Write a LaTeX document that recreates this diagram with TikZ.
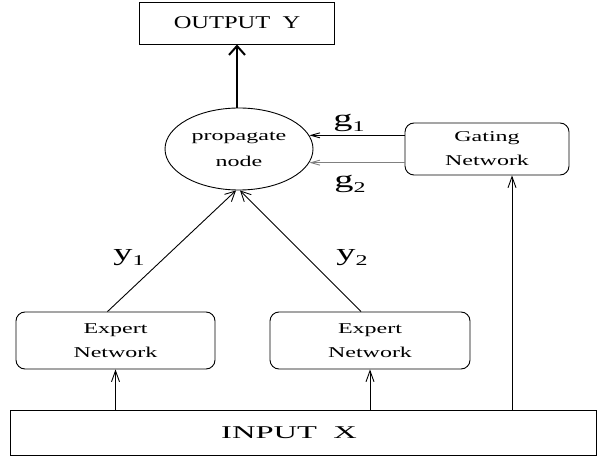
\documentclass[tikz,border=0pt]{standalone}
\usepackage{fontspec}
\setmainfont{Liberation Serif}[FakeStretch=1.6]
\usepackage{tikz}
\usetikzlibrary{arrows.meta, shapes.geometric, positioning}
\newcommand{\dn}[1]{\raisebox{-0.45ex}{\fontsize{15}{15}\selectfont #1}}

\begin{document}
\begin{tikzpicture}[x=1pt, y=1pt, line width=0.9pt,
    iobox/.style={draw, rectangle, minimum height=42pt, inner sep=2pt,
                  font=\fontsize{18}{18}\selectfont},
    netbox/.style={draw, rounded corners=9pt, minimum height=57pt, inner sep=2pt,
                   align=center, font=\fontsize{15}{24}\selectfont},
    arr/.style={-{Straight Barb[length=11pt,width=8pt]}},
    garr/.style={-{Straight Barb[length=9pt,width=5pt]}},
    sig/.style={font=\fontsize{24}{24}\selectfont, inner sep=0pt}]
  \useasboundingbox (0,0) rectangle (609,458);
  % boxes
  \node[iobox, minimum width=195pt] (out) at (237,435)
        {\scalebox{0.85}[1]{OUTPUT~~Y}};
  \node[draw, ellipse, minimum width=148pt, minimum height=82pt, inner sep=0pt,
        align=center, font=\fontsize{15}{26}\selectfont] (prop) at (239,309)
        {propagate\\node};
  \node[netbox, minimum width=164pt, minimum height=52pt] (gate) at (487,309)
        {Gating\\Network};
  \node[netbox, minimum width=199pt] (ex1) at (115.5,117.5) {Expert\\Network};
  \node[netbox, minimum width=200pt] (ex2) at (370,117.5) {Expert\\Network};
  \node[iobox, minimum width=586pt, minimum height=45pt] (inp) at (303,25.5)
        {\hspace*{-28pt}\scalebox{1.13}[1]{INPUT~~X}};
  \coordinate (gtap) at ([xshift=25pt]gate.south);

  % arrows
  \draw[-{Straight Barb[length=9pt,width=16pt]}, line width=2pt]
        (out.south |- prop.north) -- (out.south);
  \draw[garr] (prop.11 -| gate.west) -- (prop.11);
  \draw[garr, gray] (prop.-11 -| gate.west) -- (prop.-11);
  \draw[-{Straight Barb[length=10pt,width=10pt]}] ([xshift=-8pt]ex1.north)
        -- ([xshift=-3pt]prop.south);
  \draw[-{Straight Barb[length=10pt,width=10pt]}] ([xshift=-9pt]ex2.north)
        -- ([xshift=1pt]prop.south);
  \draw[arr] (ex1.south |- inp.north) -- (ex1.south);
  \draw[arr] (ex2.south |- inp.north) -- (ex2.south);
  \draw[arr] (gtap |- inp.north) -- (gtap);

  % labels
  \node[sig] (lg1) at (349,335) {g\dn{1}};
  \node[sig] (lg2) at (350,274) {g\dn{2}};
  \node[sig] (ly1) at (129,200) {y\dn{1}};
  \node[sig] (ly2) at (352,200) {y\dn{2}};
\end{tikzpicture}
\end{document}
